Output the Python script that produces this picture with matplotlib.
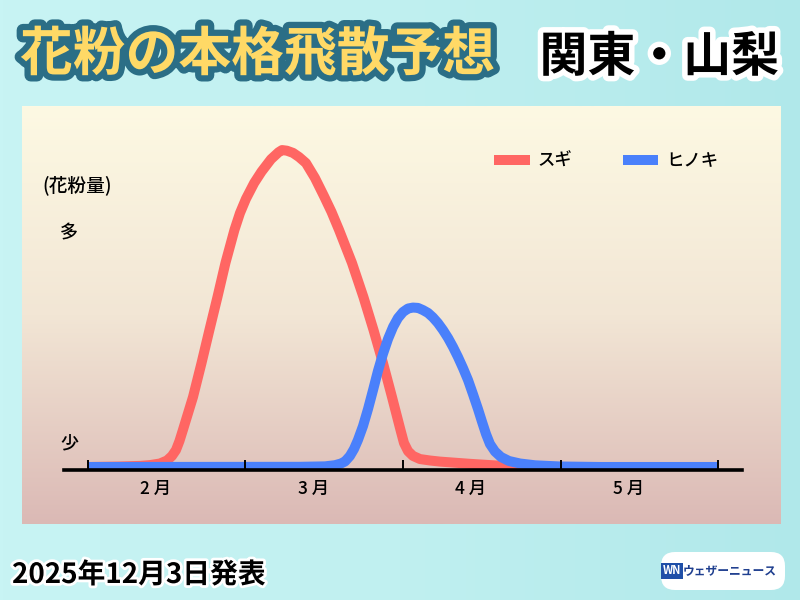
import numpy as np
import matplotlib.pyplot as plt
import matplotlib.patheffects as pe
from matplotlib.colors import LinearSegmentedColormap
from matplotlib.patches import FancyBboxPatch
from matplotlib.transforms import IdentityTransform

plt.rcParams['font.family'] = ['Noto Sans CJK JP', 'DejaVu Sans']

# x: months since Feb 1, y: relative pollen amount (peak of sugi = 100)
sugi_x = [0.0, 0.20, 0.33, 0.394, 0.457, 0.502, 0.533, 0.559, 0.581, 0.603, 0.635, 0.667,
          0.721, 0.771, 0.822, 0.873, 0.930, 0.965, 1.003, 1.055, 1.102, 1.162, 1.21,
          1.232, 1.263, 1.302, 1.340, 1.384, 1.441, 1.498, 1.546, 1.594, 1.676, 1.749,
          1.813, 1.873, 1.930, 1.984, 2.006, 2.032, 2.063, 2.108, 2.171, 2.235, 2.425,
          2.616, 2.743, 4.0]
sugi_y = [0.0, 0.15, 0.35, 0.6, 1.1, 2.05, 3.47, 5.36, 8.2, 11.7, 16.9, 22.1,
          32.8, 43.2, 53.6, 64.4, 74.8, 80.1, 84.6, 89.6, 93.2, 97.1, 99.3,
          100.0, 99.8, 99.1, 97.8, 95.9, 91.2, 85.5, 80.5, 74.8, 64.4, 53.6,
          43.2, 32.8, 22.1, 11.7, 7.6, 5.0, 3.5, 2.5, 2.05, 1.7, 1.0,
          0.4, 0.0, 0.0]
hinoki_x = [0.0, 1.346, 1.505, 1.568, 1.606, 1.632, 1.663, 1.689, 1.714, 1.746, 1.778,
            1.810, 1.841, 1.873, 1.905, 1.937, 1.968, 2.0, 2.032, 2.063, 2.095, 2.127,
            2.159, 2.190, 2.222, 2.254, 2.286, 2.317, 2.349, 2.381, 2.413, 2.444, 2.476,
            2.502, 2.527, 2.552, 2.584, 2.622, 2.673, 2.743, 2.838, 2.997, 3.251, 4.0]
hinoki_y = [0.0, 0.06, 0.2, 0.57, 1.1, 1.74, 3.47, 5.68, 8.52, 12.9, 18.3,
            24.3, 30.3, 35.7, 40.4, 44.2, 47.0, 48.9, 50.0, 50.3, 50.2, 49.5,
            48.6, 47.2, 45.4, 43.2, 40.7, 37.9, 34.7, 31.2, 27.4, 23.0, 18.3,
            14.2, 10.4, 7.26, 4.89, 3.15, 1.89, 1.10, 0.54, 0.16, 0.0, 0.0]

month_labels = ['2月', '3月', '4月', '5月']
month_bounds = [0, 1, 2, 3, 4]

fig = plt.figure(figsize=(8, 6), dpi=100)
fig.patch.set_facecolor('#c0eff0')

# background
bg = fig.add_axes([0, 0, 1, 1], zorder=-3)
grad = np.linspace(0, 1, 256)[None, :]
bg.imshow(grad, cmap=LinearSegmentedColormap.from_list(
    'bgc', ['#c8f4f4', '#c0f0f0', '#b0e8ea']), aspect='auto', extent=[0, 1, 0, 1])
bg.axis('off')

# panel with vertical gradient
panel = fig.add_axes([22 / 800, 1 - 524 / 600, 759 / 800, 418 / 600], zorder=-2)
vgrad = np.linspace(0, 1, 256)[:, None]
panel.imshow(vgrad, cmap=LinearSegmentedColormap.from_list(
    'pan', ['#fdf9e3', '#f2e6d5', '#dbb9b5']), aspect='auto', extent=[0, 1, 0, 1],
    origin='upper')
panel.axis('off')

ax = fig.add_axes([64 / 800, 1 - 470 / 600, 678 / 800, 364 / 600])
ax.patch.set_alpha(0)
ax.plot(sugi_x, sugi_y, color='#ff6663', lw=7.2, solid_capstyle='butt',
        solid_joinstyle='round', label='スギ', zorder=2)
ax.plot(hinoki_x, hinoki_y, color='#4a80fb', lw=7.2, solid_capstyle='butt',
        solid_joinstyle='round', label='ヒノキ', zorder=2.1)
ax.set_xlim(-0.152, 4.152)
ax.set_ylim(-0.95, 113.9)
ax.set_axisbelow(False)

for s in ['top', 'left', 'right']:
    ax.spines[s].set_visible(False)
ax.spines['bottom'].set_linewidth(2.6)
ax.spines['bottom'].set_color('black')
ax.set_yticks([])
ax.set_xticks(month_bounds)
ax.set_xticklabels([])
ax.tick_params(axis='x', which='major', direction='in', length=7, width=1.4, color='black')
ax.set_xticks([b + 0.43 for b in month_bounds[:-1]], minor=True)
ax.set_xticklabels([m.replace('月', ' 月') for m in month_labels], minor=True,
                   fontsize=12.5, fontweight='medium')
ax.tick_params(axis='x', which='minor', length=0, pad=7)

leg = ax.legend(loc='center left', bbox_to_anchor=(494 / 800, 1 - 161 / 600),
                bbox_transform=fig.transFigure, ncol=2, frameon=False, fontsize=12.5,
                handlelength=2.05, handletextpad=0.45, columnspacing=2.9,
                borderpad=0, borderaxespad=0)
for t in leg.get_texts():
    t.set_fontweight('medium')
for h in leg.get_lines():
    h.set_linewidth(7.2)

fig.text(42 / 800, 1 - 185 / 600, '(花粉量)', fontsize=13.5, fontweight='medium',
         va='center', ha='left')
fig.text(69 / 800, 1 - 233 / 600, '多', fontsize=13, fontweight='medium',
         va='center', ha='center')
fig.text(69 / 800, 1 - 443 / 600, '少', fontsize=13, fontweight='medium',
         va='center', ha='center')

fig.text(20 / 800, 1 - 55 / 600, '花粉の本格飛散予想', fontsize=38, fontweight='bold',
         color='#ffd966', va='center', ha='left',
         path_effects=[pe.withStroke(linewidth=9, foreground='#2b6e86')])
fig.text(779 / 800, 1 - 57 / 600, '関東・山梨', fontsize=34.5, fontweight='bold',
         color='black', va='center', ha='right',
         path_effects=[pe.withStroke(linewidth=8, foreground='white')])
fig.text(12 / 800, 1 - 575 / 600, '2025年12月3日発表', fontsize=20, fontweight='bold',
         color='black', va='center', ha='left',
         path_effects=[pe.withStroke(linewidth=4, foreground='white')])

logo = FancyBboxPatch((661, 10), 124, 38, boxstyle='round,pad=0,rounding_size=14',
                      transform=IdentityTransform(), facecolor='white', edgecolor='none')
fig.patches.append(logo)
fig.text(672 / 800, 1 - 571 / 600, 'WN', fontsize=8, fontweight='bold', color='white',
         style='italic', va='center', ha='center',
         bbox=dict(boxstyle='square,pad=0.12', facecolor='#1f4fa8', edgecolor='none'))
fig.text(683 / 800, 1 - 571 / 600, 'ウェザーニュース', fontsize=8.5, fontweight='bold',
         color='#1f3f8f', va='center', ha='left')

fig.savefig('out.png', dpi=100)
